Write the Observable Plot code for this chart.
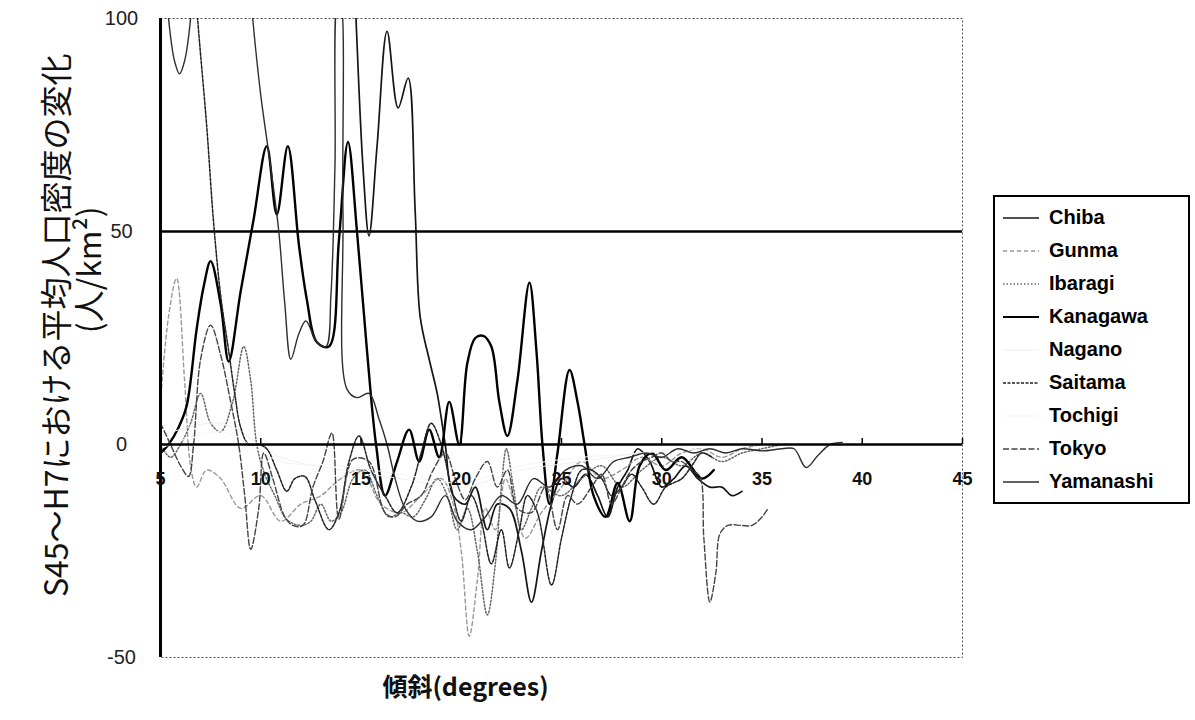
<!DOCTYPE html>
<html>
<head>
<meta charset="utf-8">
<script src="https://cdn.jsdelivr.net/npm/d3@7"></script>
<script src="https://cdn.jsdelivr.net/npm/@observablehq/plot@0.6"></script>
<style>
  body { margin: 0; background: #fff; }
  #wrap { position: relative; width: 1195px; height: 720px; }
  #wrap > svg { position: absolute; left: 0; top: 0; }
  #legend { position: absolute; left: 993px; top: 195px; width: 193px; border: 2px solid #000; background: #fff;
    font-family: "Liberation Sans", Arial, sans-serif; font-weight: bold; font-size: 20px; padding: 4px 0; }
  #legend .row { display: flex; align-items: center; height: 33px; }
  #legend svg { margin-left: 8px; margin-right: 10px; }
</style>
</head>
<body>
<div id="wrap"></div>
<script>
const seriesNames = ["Chiba","Gunma","Ibaragi","Kanagawa","Nagano","Saitama","Tochigi","Tokyo","Yamanashi"];
const xTicks = [5,10,15,20,25,30,35,40,45];
const yTicks = [-50,0,50,100];

const chiba = [[14.5,130],[14.75,100],[15.1,65],[15.4,49],[15.8,70],[16.3,97],[16.85,79],[17.35,86],[17.7,55],[17.95,30],[18.4,20],[18.8,12],[19.2,0],[19.6,-12],[20.2,-14],[20.7,-10],[21.3,-20],[21.8,-14],[22.4,-15],[23.0,-25],[23.5,-37],[24.0,-25],[24.5,-14],[25.0,-8],[25.6,-10],[26.2,-7],[26.8,-12],[27.3,-17],[27.8,-10],[28.3,-6],[28.8,-1],[29.4,-4],[30.0,-10],[30.6,-8],[31.2,-5],[31.8,-8],[32.4,-10],[33.0,-10],[33.5,-12],[34.0,-11]];
const gunma = [[5.0,10],[5.4,30],[5.8,39],[6.2,15],[6.5,-5],[6.8,-10],[7.3,-6],[8.0,-8],[9.0,-15],[10.0,-12],[11.0,-18],[12.0,-14],[13.0,-12],[14.0,-8],[15.0,-6],[16.0,-14],[17.0,-16],[18.0,-12],[19.0,-8],[19.6,-14],[20.0,-25],[20.4,-45],[20.8,-32],[21.2,-15],[21.7,-20],[22.2,-8],[22.6,-13],[23.2,-22],[24.0,-16],[25.0,-10],[26.0,-4],[27.0,-8],[28.0,-6],[29.0,-3],[30.0,-5],[31.0,-2],[32.0,-1],[33.0,-3],[34.0,-1],[35.0,0]];
const ibaragi = [[5.0,0],[5.5,-3],[6.0,0],[6.5,5],[7.0,12],[7.5,5],[8.0,3],[8.6,10],[9.15,23],[9.5,15],[9.8,0],[10.2,-7],[10.7,-12],[11.3,-17.6],[12.0,-19],[12.5,-18],[13.0,-14],[13.5,-18],[14.0,-16],[14.6,-8],[15.2,-6],[15.8,-12],[16.4,-17],[17.0,-16],[17.6,-17],[18.2,-13],[18.8,-8],[19.3,-12],[19.8,-20],[20.3,-15],[20.8,-25],[21.3,-40],[21.7,-28],[22.0,-10],[22.25,-1],[22.6,-10],[23.0,-20],[23.5,-15],[24.0,-10],[25.0,-12],[26.0,-8],[27.0,-5],[28.0,-10],[29.0,-6],[30.0,-3],[31.0,-5],[32.0,-2],[33.0,-4],[34.0,-2],[35.0,-1],[36.0,0]];
const kanagawa = [[5.0,-2],[5.4,0],[5.9,4],[6.3,9],[6.8,27],[7.15,37],[7.5,43],[8.0,33],[8.4,19.5],[9.0,36],[9.65,53],[10.3,70],[10.8,54],[11.35,70],[11.9,47],[12.3,34],[12.8,24],[13.4,23],[13.9,48],[14.35,71],[14.8,50],[15.3,22],[15.75,0],[16.2,-12],[16.8,-4],[17.4,3.5],[17.9,-4],[18.4,3.5],[18.9,-3],[19.4,10],[19.9,0],[20.3,19],[20.7,25],[21.1,25.5],[21.5,23],[21.9,10],[22.3,2],[22.8,15],[23.4,38],[23.75,22],[24.05,0],[24.4,-14],[24.8,-2],[25.4,17.5],[25.8,10],[26.15,0],[26.6,-12],[27.2,-17],[27.8,-9],[28.4,-18],[28.9,-5],[29.5,-2],[30.2,-6],[31.0,-3],[32.0,-8],[32.6,-6]];
const nagano = [[5.0,2],[8.0,5],[11.0,-3],[14.0,-6],[17.0,-8],[20.0,-10],[23.0,-6],[26.0,-4],[29.0,-2],[32.0,-1]];
const saitama = [[6.4,130],[6.85,100],[7.3,75],[7.65,52],[8.0,35],[8.4,22],[8.7,12],[9.0,4],[9.4,0],[9.9,0],[10.3,-1],[10.8,-6],[11.3,-11],[11.7,-8],[12.2,-7.5],[12.7,-13],[13.4,-20],[13.9,-16],[14.4,-4],[14.9,2],[15.5,-6],[16.2,-12],[16.8,-16],[17.5,-10],[18.0,-2],[18.5,5],[19.0,0],[19.5,-10],[20.0,-18],[20.5,-12],[21.0,-18],[21.5,-28],[22.0,-20],[22.4,-29],[22.9,-20],[23.3,-12],[23.8,-16],[24.5,-33],[25.0,-22],[25.5,-12],[26.0,-6],[26.5,-6],[27.0,-8],[27.5,-12],[28.0,-10],[28.5,-7],[29.0,-10],[29.6,-14],[30.2,-10],[31.0,-8],[31.5,-5],[32.0,-2],[32.5,-3]];
const tochigi = [[5.0,-1],[8.0,3],[11.0,-4],[14.0,-5],[17.0,-7],[20.0,-9],[23.0,-5],[26.0,-3],[29.0,-2],[32.0,0]];
const tokyo = [[5.0,5],[5.5,0],[6.0,-5],[6.4,-7.5],[6.65,0],[7.0,20],[7.5,28],[8.0,21],[8.5,10],[8.9,0],[9.2,-12],[9.5,-24.6],[9.9,-15],[10.15,-2],[10.6,-8],[11.2,-17],[11.6,-19],[12.1,-19],[12.6,-10],[13.1,-4],[13.55,2.7],[13.9,-17.5],[14.6,-3.5],[15.4,-4],[16.2,-16],[16.7,-17],[17.3,-14],[18.0,-12],[18.6,-6],[19.2,-2],[19.7,-8],[20.2,-13],[20.7,-8],[21.3,-4],[21.8,-10],[22.3,-6],[22.8,-15],[23.5,-16],[24.2,-10],[24.8,-20],[25.3,-12],[25.8,-14],[26.5,-10],[27.0,-7],[27.5,-14],[28.0,-10],[28.5,-6],[29.0,-4],[29.5,-3],[30.0,-2],[30.5,-4],[31.0,-4],[31.5,-6],[31.9,-7.5],[32.1,-22],[32.4,-37],[32.7,-30],[32.9,-21],[33.3,-19],[34.0,-19],[34.5,-19],[35.0,-17],[35.3,-15]];
const yamanashi = [[5.0,125],[5.4,100],[5.7,90],[5.95,87],[6.2,90],[6.5,100],[6.8,125],[8.0,140],[9.2,125],[9.6,100],[10.0,82],[10.5,65],[10.9,50],[11.2,33],[11.5,20],[11.9,26],[12.25,29],[12.8,24],[13.25,23],[13.5,35],[13.7,65],[13.85,105],[13.95,105],[14.1,55],[14.3,13],[14.8,11],[15.4,12],[15.9,6],[16.3,0],[16.7,-8],[17.2,-15],[17.8,-18],[18.5,-17],[19.2,-12],[19.8,-18],[20.5,-20],[21.2,-17],[22.0,-12],[22.8,-14],[23.6,-8],[24.4,-10],[25.2,-6],[26.0,-5],[26.8,-8],[27.6,-4],[28.4,-3],[29.2,-2],[30.0,-3],[30.8,-1],[31.6,-2],[32.4,-1],[33.2,-2],[34.0,-1],[35.0,-1.5],[36.0,-1],[36.6,-1],[37.2,-5.4],[37.8,-2.5],[38.4,0],[39.0,0.5]];

const seriesData = [chiba, gunma, ibaragi, kanagawa, nagano, saitama, tochigi, tokyo, yamanashi];

const styles = {
  Chiba:     {stroke: "#151515", width: 1.7, dash: null},
  Gunma:     {stroke: "#999999", width: 1.4, dash: "4,3"},
  Ibaragi:   {stroke: "#666666", width: 1.5, dash: "1.5,2"},
  Kanagawa:  {stroke: "#000000", width: 2.4, dash: null},
  Nagano:    {stroke: "#f0f0f0", width: 1, dash: null},
  Saitama:   {stroke: "#222222", width: 1.5, dash: "3,1.5"},
  Tochigi:   {stroke: "#f5f5f5", width: 1, dash: null},
  Tokyo:     {stroke: "#444444", width: 1.4, dash: "6,2.5"},
  Yamanashi: {stroke: "#2e2e2e", width: 1.4, dash: null}
};

const rows = [];
seriesNames.forEach((name, i) => seriesData[i].forEach(([x, y]) => rows.push({series: name, x, y})));

const fontLatin = "'Liberation Sans', Arial, sans-serif";
const fontJP = "'Noto Sans CJK JP', sans-serif";

const lineMarks = seriesNames.map(name => {
  const s = styles[name];
  return Plot.line(rows.filter(r => r.series === name), {
    x: "x", y: "y", stroke: s.stroke, strokeWidth: s.width,
    strokeDasharray: s.dash || undefined, curve: "catmull-rom", clip: true
  });
});

const chart = Plot.plot({
  width: 1195, height: 720,
  marginLeft: 160, marginRight: 233, marginTop: 18, marginBottom: 63,
  x: {domain: [5, 45], axis: null},
  y: {domain: [-50, 100], axis: null},
  style: {fontFamily: fontLatin, background: "transparent"},
  marks: [
    Plot.frame({stroke: "#555", strokeDasharray: "2,2"}),
    Plot.ruleY([50], {stroke: "#000", strokeWidth: 2.5}),
    ...lineMarks,
    Plot.ruleY([0], {stroke: "#000", strokeWidth: 2.5}),
    Plot.ruleX([5], {stroke: "#000", strokeWidth: 3}),
    Plot.ruleX(xTicks, {y1: 0, y2: 1.4, stroke: "#000", strokeWidth: 1.5}),
    Plot.text(xTicks, {x: d => d, y: 0, dy: 35, text: d => String(d), fontSize: 18, fontWeight: "bold", fill: "#111"}),
    Plot.text(yTicks, {y: d => d, frameAnchor: "left", dx: -39, textAnchor: "middle", text: d => String(d), fontSize: 20, fill: "#222"}),
    Plot.text(["S45～H7における平均人口密度の変化"], {y: 28, frameAnchor: "left", dx: -103, textAnchor: "middle", rotate: -90, text: d => d, fontSize: 32, fontFamily: fontJP, fill: "#111"}),
    Plot.text(["(人/km²)"], {y: 41, frameAnchor: "left", dx: -70, textAnchor: "middle", rotate: -90, text: d => d, fontSize: 32, fontFamily: fontJP, fill: "#111"}),
    Plot.text(["傾斜(degrees)"], {frameAnchor: "bottom", dx: -96, dy: 38, text: d => d, fontSize: 25, fontWeight: "bold", fontFamily: fontJP, fill: "#111"})
  ]
});

const wrap = document.getElementById("wrap");
wrap.appendChild(chart);

const legend = document.createElement("div");
legend.id = "legend";
seriesNames.forEach(name => {
  const s = styles[name];
  const row = document.createElement("div");
  row.className = "row";
  row.innerHTML = `<svg width="36" height="10"><line x1="0" y1="5" x2="36" y2="5" stroke="${s.stroke}" stroke-width="${Math.min(s.width, 2)}" ${s.dash ? `stroke-dasharray="${s.dash}"` : ""}/></svg><span>${name}</span>`;
  legend.appendChild(row);
});
wrap.appendChild(legend);
</script>
</body>
</html>
